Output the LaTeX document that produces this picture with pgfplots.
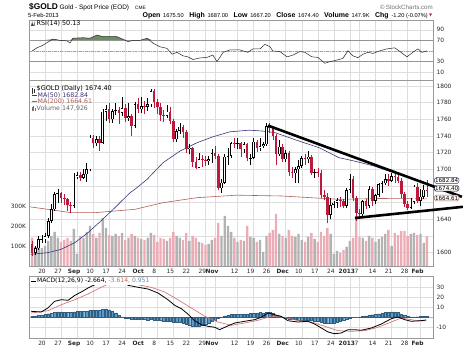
\documentclass[border=0pt]{standalone}
\usepackage{fontspec}
\setmainfont{DejaVu Sans}
\newfontfamily\arial{Liberation Sans}
\newfontfamily\dv{DejaVu Sans}
\usepackage{pgfplots}
\usepackage{pgfplotstable}
\pgfplotsset{compat=1.18}

\definecolor{gridc}{RGB}{222,222,222}
\definecolor{candred}{RGB}{190,25,60}
\definecolor{volgray}{RGB}{178,178,178}
\definecolor{volpink}{RGB}{236,172,182}
\definecolor{ma50}{RGB}{55,55,125}
\definecolor{ma200}{RGB}{175,95,85}
\definecolor{sigc}{RGB}{212,120,120}
\definecolor{histc}{RGB}{85,155,205}
\definecolor{rsigreen}{RGB}{108,142,98}

% up (hollow) candles: x o h l c volume(K)
\pgfplotstableread{
x o h l c v
-3 1600 1608 1597 1605 95
-2 1605 1620 1603 1616 110
-1 1616 1621 1611 1616 90
0 1616 1623 1612 1620 100
1 1620 1642 1618 1638 125
2 1638 1658 1636 1652 150
3 1652 1673 1650 1670 170
4 1670 1676 1660 1671 140
9 1656 1696 1654 1691 185
10 1691 1697 1688 1693 60
12 1690 1700 1688 1694 140
13 1694 1707 1685 1700 170
14 1700 1741 1698 1738 200
16 1731 1740 1728 1736 140
18 1732 1772 1730 1769 240
19 1769 1777 1758 1772 190
21 1760 1772 1756 1770 150
22 1770 1779 1765 1771 160
24 1768 1787 1764 1773 165
26 1762 1779 1758 1764 140
28 1752 1781 1750 1778 150
30 1772 1787 1768 1776 135
32 1775 1785 1770 1778 140
33 1778 1796 1775 1794 165
38 1764 1777 1762 1769 125
41 1736 1748 1733 1746 150
42 1746 1756 1742 1751 140
45 1724 1730 1718 1726 125
48 1702 1719 1701 1712 120
51 1710 1716 1705 1712 110
52 1712 1724 1708 1719 130
55 1677 1688 1672 1684 150
56 1684 1718 1682 1715 250
57 1715 1726 1705 1716 200
58 1716 1733 1713 1731 170
60 1730 1737 1724 1731 120
62 1724 1733 1720 1730 125
64 1713 1718 1705 1714 145
65 1714 1737 1712 1733 140
67 1726 1737 1722 1728 130
68 1728 1733 1725 1730 70
69 1730 1755 1728 1752 150
73 1718 1735 1716 1727 160
75 1712 1723 1709 1719 140
78 1695 1703 1684 1700 145
79 1700 1711 1683 1704 160
80 1704 1716 1702 1713 130
82 1712 1722 1707 1715 145
84 1696 1700 1690 1697 135
89 1645 1665 1640 1657 160
90 1657 1662 1653 1660 60
91 1660 1666 1654 1663 75
94 1656 1677 1654 1675 95
95 1675 1694 1672 1688 125
99 1646 1663 1643 1662 140
101 1656 1680 1654 1676 150
103 1662 1670 1658 1669 120
104 1669 1684 1667 1682 135
105 1682 1686 1672 1683 145
106 1683 1694 1681 1688 160
108 1686 1696 1685 1692 100
114 1654 1665 1652 1661 160
115 1661 1681 1658 1679 165
117 1662 1676 1656 1667 160
118 1667 1681 1664 1675.6 115
}\upc

% down (red) candles
\pgfplotstableread{
x o h l c v
-4 1610 1614 1596 1600 140
5 1671 1673 1660 1665 120
6 1665 1670 1657 1664 130
7 1664 1666 1650 1657 140
8 1657 1661 1648 1656 125
11 1693 1697 1686 1690 150
15 1738 1741 1726 1731 160
17 1736 1740 1722 1732 165
20 1772 1780 1755 1760 155
23 1771 1775 1754 1768 150
25 1773 1778 1757 1762 130
27 1764 1766 1740 1752 160
29 1778 1786 1767 1772 140
31 1776 1782 1766 1775 130
34 1794 1796 1773 1781 155
35 1781 1784 1766 1775 120
36 1775 1779 1758 1765 140
37 1765 1771 1757 1764 135
39 1769 1775 1754 1758 140
40 1758 1760 1733 1736 170
43 1751 1753 1737 1745 130
44 1745 1747 1720 1724 165
46 1726 1727 1703 1709 150
47 1709 1715 1700 1702 140
49 1712 1717 1703 1711 115
50 1711 1716 1704 1710 105
53 1719 1728 1712 1716 140
54 1716 1718 1675 1677 215
59 1731 1738 1725 1730 140
61 1731 1733 1715 1724 130
63 1730 1732 1710 1713 200
66 1733 1735 1721 1726 120
70 1752 1755 1744 1749 165
71 1749 1752 1735 1740 180
72 1740 1742 1705 1718 260
74 1727 1730 1709 1712 150
76 1719 1722 1692 1697 180
77 1697 1703 1690 1695 150
81 1713 1718 1705 1712 120
83 1715 1717 1693 1696 165
85 1697 1701 1691 1695 120
86 1695 1699 1665 1669 170
87 1669 1675 1663 1667 150
88 1667 1671 1635 1645 190
92 1663 1667 1655 1662 65
93 1662 1664 1653 1656 80
96 1688 1692 1662 1665 140
97 1665 1668 1638 1647 250
98 1647 1652 1640 1646 145
100 1662 1664 1652 1656 125
102 1676 1679 1656 1662 140
107 1688 1694 1680 1686 180
109 1692 1697 1683 1691 165
110 1691 1696 1683 1686 155
111 1686 1689 1666 1670 175
112 1670 1673 1655 1658 175
113 1658 1662 1651 1654 150
116 1679 1684 1659 1662 155
119 1675.5 1687 1667.2 1674.4 147.926
}\dnc

\pgfplotstableread{
x m
-4.4 1598
0.9 1600
5.0 1604
9.3 1612
13.4 1624
17.4 1638
21.8 1654
26.5 1672
28.0 1676
31.8 1688
36.8 1708
42.1 1722
47.4 1732
52.3 1739
57.6 1745
63.6 1747
67.6 1746
71.7 1744
79.1 1734
85.4 1726
91.6 1714
96.3 1710
102.5 1704
105.6 1700
110.9 1693
117.1 1686
119 1682.84
}\mafifty

\pgfplotstableread{
x m
-4.7 1655
0.9 1652
8.1 1648
15.6 1648
21.8 1650
28.0 1652
36.8 1660
47.4 1666
59.8 1669
73.8 1668
91.6 1664
104.4 1665
119 1664.61
}\matwohundred

\pgfplotstableread{
x r
-4.0 50
-2.5 56
-0.6 61
2.5 72.5
4.7 70
6.9 69
7.8 65
8.7 74
11.8 75
14.0 74
16.2 80
18.1 77
22.4 77
24.3 72
25.9 67.5
27.4 70
29.6 70
31.8 74
33.6 65
35.8 58
38.0 55
39.6 44
41.1 47.5
43.0 41
44.5 39
46.1 34
48.3 37
50.5 38
52.3 42.5
53.6 30
55.5 47.5
57.6 52
60.7 52
63.2 47.5
64.8 54
67.0 54
68.5 62.5
70.1 58
71.0 50
73.2 49
75.4 39
77.3 42.5
79.4 49
81.0 47.5
83.2 39
85.0 38
87.2 27
88.8 30
91.0 33
92.8 36
94.4 50.5
95.9 41
97.5 37.5
99.1 44
100.6 47.5
102.2 45.5
104.4 50.5
106.5 54
109.0 56
110.6 49
112.8 39
114.6 47.5
116.2 54
117.4 47.5
119.0 50.13
}\rsidata

\pgfplotstableread{
x m
-4.3 6
-1.2 5.3
0.9 9.3
3.0 16
5.1 17.6
7.2 17
9.3 22
11.3 25.3
13.4 29.3
15.5 32.6
17.0 35
19.5 38
21.5 39
23.5 37
24.8 34.3
25.9 32
29.0 30
32.1 28.3
35.2 24.3
38.3 17.6
40.4 12
42.5 8.6
44.5 3.3
46.6 -3.4
48.7 -7.4
50.8 -9
52.9 -10
54.4 -12.4
56.0 -10
59.1 -5.7
62.2 -4
65.3 -2.4
67.4 0
69.5 4.3
71.6 2.6
73.6 1
75.7 -3.4
78.8 -4.7
81.9 -4
84.0 -6.7
86.1 -10.7
88.2 -14.7
90.2 -16.4
92.3 -15.7
94.4 -12.4
96.5 -12.4
98.5 -13
101.7 -10.7
104.8 -6.7
107.9 -1.4
110.0 0.3
112.1 -2.4
114.1 -4
117.2 -3.4
118.8 -2.664
}\macddata

\pgfplotstableread{
x s
-4.3 4.3
0.9 6.6
5.1 12.6
9.3 17.6
13.4 23.3
17.5 30
21.7 36
24.8 36.6
29.0 32.6
33.1 30
37.3 25.3
41.4 17.6
45.6 9.3
49.8 1
53.9 -4.7
58.0 -8
62.2 -5.7
66.4 -3
70.5 1
74.7 0
78.8 -3.4
83.0 -4.7
87.1 -9
91.3 -13.4
95.4 -14
99.6 -13.4
103.7 -10
107.9 -4.7
111.0 -0.7
115.2 -3
118.8 -3.614
}\sigdata

\pgfplotstableread{
x h
-4 1.0
-3 1.5
-2 2.0
-1 2.5
0 3.0
1 3.6
2 4.2
3 5.0
4 5.5
5 5.5
6 5.2
7 5.0
8 4.8
9 5.5
10 5.8
11 6.0
12 5.8
13 6.0
14 7.0
15 7.2
16 7.0
17 7.2
18 8.2
19 8.5
20 7.5
21 6.2
22 4.5
23 2.0
24 0.5
25 -0.5
26 -1.2
27 -1.5
28 -1.8
29 -2.0
30 -2.2
31 -2.3
32 -2.5
33 -2.3
34 -2.5
35 -2.8
36 -3.2
37 -3.5
38 -3.6
39 -3.8
40 -4.5
41 -5.0
42 -5.3
43 -5.8
44 -6.5
45 -7.5
46 -8.5
47 -9.0
48 -9.0
49 -8.2
50 -7.0
51 -5.5
52 -4.0
53 -2.5
54 -1.2
55 0.5
56 1.5
57 2.2
58 2.8
59 3.0
60 3.0
61 3.2
62 3.5
63 3.5
64 3.8
65 4.2
66 4.5
67 4.8
68 4.5
69 5.2
70 5.0
71 3.8
72 2.2
73 1.0
74 0.0
75 -1.0
76 -1.5
77 -2.0
78 -2.2
79 -2.5
80 -2.5
81 -2.6
82 -2.8
83 -3.2
84 -3.6
85 -4.0
86 -4.8
87 -5.5
88 -6.0
89 -5.8
90 -5.5
91 -5.0
92 -4.2
93 -3.0
94 -1.8
95 -0.5
96 0.2
97 0.0
98 0.5
99 1.0
100 1.5
101 2.2
102 2.6
103 3.0
104 3.5
105 4.2
106 4.8
107 5.2
108 5.5
109 5.4
110 4.8
111 3.5
112 2.2
113 1.0
114 0.3
115 0.5
116 0.6
117 0.7
118 0.8
119 0.951
}\histdata

\tikzset{
  vbox/.style={draw, fill=white, rounded corners=1.5pt, inner sep=0.7bp, line width=0.45pt, font=\fontsize{5.6}{6}\selectfont, anchor=west, xshift=1.2bp},
}
\pgfplotsset{
  panel/.style={
    scale only axis, width=403.5bp, xmin=-4.83, xmax=120.9,
    axis line style={draw=black!40, line width=0.4pt},
    xtick={0,5,10,15,20,25,30,35,40,45,50,53,60,65,70,75,80,85,90,95,98,103,108,113,117},
    major tick length=0pt,
    xmajorgrids, ymajorgrids,
    major grid style={draw=gridc, line width=0.4pt},
    ticklabel style={font=\fontsize{5.9}{6}\selectfont, text=black!85},
    yticklabel pos=right,
    /pgf/number format/1000 sep={},
    /pgf/number format/assume math mode=true,
  },
  dates/.style={
    xticklabels={20,27,\textbf{Sep},10,17,24,\textbf{Oct},8,15,22,29,\textbf{Nov},12,19,26,\textbf{Dec},10,17,24,\textbf{2013},7,14,21,28,\textbf{Feb}},
    xticklabel style={xshift=-3bp},
  },
}

\begin{document}
\begin{tikzpicture}
\path[use as bounding box] (0,0) rectangle (467bp,352bp);

% ---------- header ----------
\node[anchor=base west, inner sep=0] at (29bp,342.5bp) {\arial\bfseries\fontsize{8.4}{9}\selectfont \$GOLD};
\node[anchor=base west, inner sep=0] at (59.5bp,342.5bp) {\arial\fontsize{6.5}{7}\selectfont Gold - Spot Price (EOD)};
\node[anchor=base west, inner sep=0] at (135bp,342.5bp) {\arial\fontsize{4.8}{5}\selectfont CME};
\node[anchor=base east, inner sep=0] at (433bp,342.5bp) {\arial\fontsize{6.2}{7}\selectfont\color{black!55}\textcopyright\,StockCharts.com};
\node[anchor=base west, inner sep=0] at (28bp,334.8bp) {\arial\fontsize{5.9}{7}\selectfont 5-Feb-2013};
\node[anchor=base east, inner sep=0] at (428bp,334.8bp) {\arial
 {\bfseries\fontsize{7}{8}\selectfont Open} {\fontsize{5.7}{7}\selectfont 1675.50}\;
 {\bfseries\fontsize{7}{8}\selectfont High} {\fontsize{5.7}{7}\selectfont 1687.00}\;
 {\bfseries\fontsize{7}{8}\selectfont Low} {\fontsize{5.7}{7}\selectfont 1667.20}\;
 {\bfseries\fontsize{7}{8}\selectfont Close} {\fontsize{5.7}{7}\selectfont 1674.40}\;
 {\bfseries\fontsize{7}{8}\selectfont Volume} {\fontsize{5.7}{7}\selectfont 147.9K}\;
 {\bfseries\fontsize{7}{8}\selectfont Chg} {\fontsize{5.7}{7}\selectfont -1.20 (-0.07\%)}};
\node[anchor=base west, inner sep=0] at (429bp,335.5bp) {\dv\fontsize{4}{5}\selectfont\color{candred}▼};

% ---------- RSI panel ----------
\begin{axis}[panel, at={(29.5bp,272bp)}, anchor=south west, height=60bp,
  ymin=-4.5, ymax=108.3, ytick={10,30,50,70,90}, yticklabels={10,30,,70,90}, xticklabel=\empty]
  \addplot[fill=rsigreen, draw=none] table[x=x, y expr={max(\thisrow{r},70)}] {\rsidata} -- (axis cs:119,70) -- (axis cs:-4,70) -- cycle;
  \addplot[black!42, line width=0.9pt] coordinates {(-4.83,70) (120.9,70)};
  \addplot[black!42, line width=0.9pt] coordinates {(-4.83,30) (120.9,30)};
  \addplot[black!38, line width=0.5pt, dash pattern=on 3pt off 1.2pt on 0.8pt off 1.2pt] coordinates {(-4.83,50) (120.9,50)};
  \addplot[black!85, line width=0.5pt] table[x=x, y=r] {\rsidata};
  \node[vbox, draw=black!80] at (axis cs:120.9,50.13) {50.13};
\end{axis}
\node[anchor=base west, inner sep=0] at (36.5bp,326bp) {\dv\fontsize{6.4}{7}\selectfont RSI(14) 50.13};
\fill[black!75] (31bp,326bp) -- (32.2bp,330.5bp) -- (33.4bp,326bp) -- (34.6bp,330.5bp) -- (34.6bp,326bp) -- cycle;

% ---------- price grid axis ----------
\begin{axis}[panel, dates, at={(29.5bp,86bp)}, anchor=south west, height=186bp,
  ymin=1584, ymax=1807.2, ytick={1600,1620,...,1800},
  yticklabels={1600,,1640,,,1700,1720,1740,1760,1780,1800}]
  \addplot[draw=none] table[x=x, y=m] {\mafifty};
\end{axis}

% ---------- volume axis ----------
\begin{axis}[scale only axis, width=403.5bp, height=186bp, at={(29.5bp,86bp)}, anchor=south west,
  xmin=-4.83, xmax=120.9, ymin=0, ymax=930, axis line style={draw=none},
  xtick=\empty, ytick={100,200,300}, yticklabels={100K,200K,300K}, major tick length=0pt,
  ticklabel style={font=\fontsize{5.9}{6}\selectfont, text=black!85}, yticklabel pos=left]
  \addplot[ybar, bar width=2.35bp, bar shift=0pt, fill=volgray, draw=none] table[x=x, y=v] {\upc};
  \addplot[ybar, bar width=2.35bp, bar shift=0pt, fill=volpink, draw=none] table[x=x, y=v] {\dnc};
  \node[vbox, draw=black!45] at (axis cs:120.9,147.926) {147926};
\end{axis}

% ---------- price axis (candles) ----------
\begin{axis}[scale only axis, width=403.5bp, height=186bp, at={(29.5bp,86bp)}, anchor=south west,
  xmin=-4.83, xmax=120.9, ymin=1584, ymax=1807.2, hide axis, clip=false]
  \addplot[ma200, line width=0.6pt] table[x=x, y=m] {\matwohundred};
  \addplot[ma50, line width=0.6pt] table[x=x, y=m] {\mafifty};
  % wicks
  \addplot[black, line width=0.5pt, -, quiver={u=0, v={\thisrow{h}-\thisrow{l}}}] table[x=x, y=l] {\upc};
  \addplot[candred, line width=0.5pt, -, quiver={u=0, v={\thisrow{h}-\thisrow{l}}}] table[x=x, y=l] {\dnc};
  % bodies
  \addplot[candred, line width=2.6bp, -, quiver={u=0, v={max(abs(\thisrow{c}-\thisrow{o}),0.9)}}] table[x=x, y expr={min(\thisrow{o},\thisrow{c})}] {\dnc};
  \addplot[black, line width=2.7bp, -, quiver={u=0, v={max(\thisrow{c}-\thisrow{o},0.9)}}] table[x=x, y=o] {\upc};
  \addplot[white, line width=1.2bp, -, quiver={u=0, v={max(\thisrow{c}-\thisrow{o}-1.6,0)}}] table[x=x, y expr={\thisrow{o}+0.8}] {\upc};
  % trendlines
  \addplot[black, line width=2.6pt] coordinates {(69.5,1752.5) (129.9,1667)};
  \addplot[black, line width=2.6pt] coordinates {(96.6,1641.6) (130.2,1655)};
  % value boxes
  \node[vbox, draw=ma50] at (axis cs:120.9,1686.6) {1682.84};
  \node[vbox, draw=black] at (axis cs:120.9,1677.2) {1674.40};
  \node[vbox, draw=ma200] at (axis cs:120.9,1665.6) {1664.61};
\end{axis}

% legend of the price panel
\fill[black!80] (31.5bp,257.5bp) rectangle (32.5bp,264bp);
\fill[black!80] (33.5bp,259bp) rectangle (34.8bp,262.5bp);
\node[anchor=base west, inner sep=0] at (36.5bp,261.5bp) {\dv\fontsize{6.5}{7}\selectfont \$GOLD (Daily) 1674.40};
\draw[ma50, line width=0.9pt] (31.5bp,257bp) -- (37bp,257bp);
\node[anchor=base west, inner sep=0] at (37.5bp,254.5bp) {\dv\fontsize{6.3}{7}\selectfont\color{ma50}MA(50) 1682.84};
\draw[ma200, line width=0.9pt] (31.5bp,250.3bp) -- (37bp,250.3bp);
\node[anchor=base west, inner sep=0] at (37.5bp,248bp) {\dv\fontsize{6.3}{7}\selectfont\color{ma200}MA(200) 1664.61};
\fill[black!55] (31.5bp,241bp) rectangle (32.5bp,245bp);
\fill[black!55] (33.2bp,241bp) rectangle (34.2bp,246bp);
\fill[black!55] (34.9bp,241bp) rectangle (35.9bp,244bp);
\node[anchor=base west, inner sep=0] at (36.5bp,241bp) {\dv\fontsize{6.3}{7}\selectfont\color{black!60}Volume 147,926};

% ---------- MACD panel ----------
\begin{axis}[panel, dates, at={(29.5bp,14bp)}, anchor=south west, height=62bp,
  ymin=-20.7, ymax=41.3, ytick={-10,0,10,20,30}, yticklabels={-10,,10,20,30}]
  \addplot[histc!70!black!50, line width=0.5pt] coordinates {(-4.83,0) (120.9,0)};
  \addplot[ybar, bar width=2.4bp, bar shift=0pt, fill=histc, draw=histc!60!black, line width=0.2pt] table[x=x, y=h] {\histdata};
  \addplot[sigc, line width=0.7pt] table[x=x, y=s] {\sigdata};
  \addplot[black, line width=0.8pt] table[x=x, y=m] {\macddata};
  \node[vbox, draw=histc!60!black, text=histc!60!black] at (axis cs:120.9,2.6) {0.951};
  \node[vbox, draw=black] at (axis cs:120.9,-3.0) {-2.664};
\end{axis}
\node[anchor=base west, fill=white, inner sep=0.8bp] at (30bp,69bp) {\dv\fontsize{6.1}{7}\selectfont
  \rule[1.6bp]{5bp}{0.8pt}\,MACD(12,26,9) -2.664, \textcolor{sigc!90!black}{-3.614,} \textcolor{histc!70!black!80}{0.951}};

\end{tikzpicture}
\end{document}
